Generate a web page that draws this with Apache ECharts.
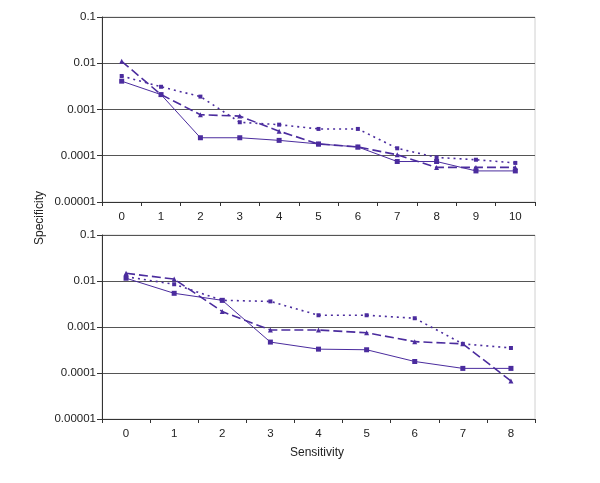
<!DOCTYPE html>
<html><head><meta charset="utf-8">
<script src="https://cdn.jsdelivr.net/npm/echarts@6/dist/echarts.min.js"></script>
<style>html,body{margin:0;padding:0;background:#fff}#c{width:600px;height:483px}</style>
</head><body><div id="c"></div>
<script>
var catsTop = ['0','1','2','3','4','5','6','7','8','9','10'];
var catsBot = ['0','1','2','3','4','5','6','7','8'];
var topSolid  = [0.0041,0.0021,0.000245,0.000245,0.000215,0.00018,0.000155,0.000075,0.000075,0.000047,0.000047];
var topDashed = [0.011,0.0021,0.00077,0.00072,0.00034,0.00018,0.000155,0.000105,0.000056,0.000056,0.000056];
var topDotted = [0.0053,0.0031,0.0019,0.00053,0.00047,0.00038,0.00038,0.000145,0.000092,0.000082,0.00007];
var botSolid  = [0.0115,0.0054,0.0038,0.00047,0.00033,0.00032,0.000178,0.000126,0.000126];
var botDashed = [0.0147,0.011,0.00216,0.00086,0.00086,0.00075,0.00048,0.00043,0.000067];
var botDotted = [0.0124,0.0085,0.0038,0.0036,0.0018,0.0018,0.00155,0.00043,0.00035];
var yTickLabels = ['0.00001','0.0001','0.001','0.01','0.1'];
var xName = 'Sensitivity';
var yName = 'Specificity';

var purple = '#4b2c9e';
var font = 'Liberation Sans, Arial, sans-serif';
function yAxis(idx){
  return {
    type:'log', logBase:10, min:0.00001, max:0.1, gridIndex:idx,
    axisLine:{show:true, lineStyle:{color:'#333', width:1}},
    axisTick:{show:true, inside:false, length:5, lineStyle:{color:'#333'}},
    axisLabel:{color:'#222', fontSize:11.5, fontFamily:font, margin:6,
      formatter:function(v){ var e = Math.round(-Math.log10(v)); return yTickLabels[5-e] || ''; }},
    splitLine:{show:true, showMinLine:false, showMaxLine:false, lineStyle:{color:'#555', width:1}}
  };
}
function xAxis(idx, cats){
  return {
    type:'category', data:cats, gridIndex:idx, boundaryGap:true,
    axisLine:{show:true, onZero:false, lineStyle:{color:'#333', width:1}},
    axisTick:{show:true, alignWithLabel:false, length:4, lineStyle:{color:'#333'}},
    axisLabel:{color:'#222', fontSize:11.5, fontFamily:font, margin:9},
    splitLine:{show:false}
  };
}
function ser(idx, data, kind){
  var s = {type:'line', xAxisIndex:idx, yAxisIndex:idx, data:data, animation:false,
    showSymbol:true, symbolKeepAspect:true, itemStyle:{color:purple}};
  if(kind==='solid'){ s.lineStyle={color:purple,width:1,type:'solid'}; s.symbol='rect'; s.symbolSize=5; }
  if(kind==='dashed'){ s.lineStyle={color:purple,width:1.6,type:[9,4]}; s.symbol='triangle'; s.symbolSize=5; }
  if(kind==='dotted'){ s.lineStyle={color:purple,width:1.6,type:[2,4]}; s.symbol='rect'; s.symbolSize=4; }
  return s;
}
var chart = echarts.init(document.getElementById('c'), null, {renderer:'canvas'});
chart.setOption({
  backgroundColor:'#fff',
  animation:false,
  grid:[
    {left:102, top:17, width:433, height:185, show:true, borderColor:'#d0d0d0', borderWidth:1, backgroundColor:'transparent'},
    {left:102, top:235, width:433, height:184, show:true, borderColor:'#d0d0d0', borderWidth:1, backgroundColor:'transparent'}
  ],
  xAxis:[xAxis(0,catsTop), xAxis(1,catsBot)],
  yAxis:[yAxis(0), yAxis(1)],
  series:[
    ser(0, topSolid,'solid'), ser(0, topDashed,'dashed'), ser(0, topDotted,'dotted'),
    ser(1, botSolid,'solid'), ser(1, botDashed,'dashed'), ser(1, botDotted,'dotted')
  ],
  graphic:[
    {type:'text', x:317, y:453, style:{text:xName, fontSize:12, fontFamily:font, fill:'#222', align:'center', verticalAlign:'middle'}},
    {type:'text', x:40, y:218, rotation:Math.PI/2, style:{text:yName, fontSize:12, fontFamily:font, fill:'#222', align:'center', verticalAlign:'middle'}}
  ]
});
</script></body></html>
